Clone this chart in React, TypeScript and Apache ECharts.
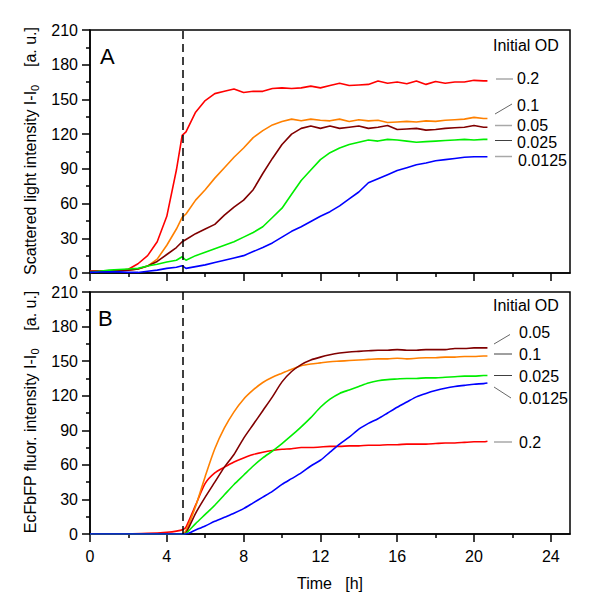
import React, { useEffect, useRef } from "react";
import * as echarts from "echarts";

// ---- Data ----
const X_MAJOR = [0, 4, 8, 12, 16, 20, 24];
const X_MINOR = [2, 6, 10, 14, 18, 22];
const X_LABELS = ["0", "4", "8", "12", "16", "20", "24"];
const INDUCTION_TIME = 4.85;

// Panel A: scattered light
const TOP_T = [0, 0.5, 1, 1.5, 2, 2.5, 3, 3.5, 4, 4.5, 4.8, 5.0, 5.5, 6, 6.5, 7, 7.5, 8, 8.5, 9, 9.5, 10, 10.5, 11, 11.5, 12, 12.5, 13, 13.5, 14, 14.5, 15, 15.5, 16, 16.5, 17, 17.5, 18, 18.5, 19, 19.5, 20, 20.5, 20.7];
const TOP_02 = [1.5, 1.8, 2, 2.2, 3.2, 8, 15, 27, 49, 89, 119, 122, 139, 149, 155, 157, 159, 156, 157, 157, 159.5, 160, 159.5, 160, 161.5, 160, 162, 164, 162, 162.5, 163, 166, 164, 165, 163.5, 166, 163, 165.5, 164, 165, 165, 166.5, 166, 166];
const TOP_01 = [1.5, 1.8, 2, 2.2, 2.5, 3.5, 6, 12, 24, 38, 48, 51, 63, 72, 82, 91, 100, 108, 117, 123, 128, 131, 133, 131.5, 133, 132, 131.5, 133, 131, 132.5, 131.5, 132, 130, 130.5, 131, 130.5, 131.5, 131, 132, 132.5, 133, 134.5, 133.5, 133.5];
const TOP_005 = [1.5, 1.5, 1.8, 2, 2.5, 3.5, 6, 10, 16, 22, 27, 29, 34, 38, 42, 50, 57, 63, 72, 86, 99, 111, 120, 125, 127, 125, 127, 125, 126, 127, 125, 126, 127.5, 124, 124.5, 125, 123.5, 124, 125, 125.5, 126, 127.5, 126, 126];
const TOP_0025 = [0.5, 1.5, 2.5, 3, 3.5, 4, 6, 7.5, 9.5, 11, 14, 11, 15, 18, 21, 24, 27, 31, 35, 40, 48, 56, 68, 80, 89, 98, 104, 108, 111, 113, 115, 114, 115.5, 115, 114, 113, 113.5, 114, 114.5, 115, 115.5, 115, 115.5, 115.5];
const TOP_00125 = [0.5, 0.8, 1, 1, 0.5, 0.5, 1.5, 2.5, 4, 5, 6.3, 4, 5.5, 7, 9, 11, 13, 15, 18.5, 22, 26, 31, 36, 40, 44.5, 49, 53, 58, 64, 70, 78, 81.5, 85, 88.5, 91, 93.5, 95, 97, 98, 99, 100, 100.5, 100.5, 100.5];

// Panel B: EcFbFP fluorescence
const BOT_T = [0, 1, 2, 3, 4, 4.5, 4.85, 5.0, 5.5, 6, 6.5, 7, 7.5, 8, 8.5, 9, 9.5, 10, 10.5, 11, 11.5, 12, 12.5, 13, 13.5, 14, 14.5, 15, 15.5, 16, 16.5, 17, 17.5, 18, 18.5, 19, 19.5, 20, 20.5, 20.7];
const BOT_02 = [0, 0, 0.2, 0.5, 1.5, 2.5, 4, 6, 25, 44, 53, 58, 62.5, 66, 69, 71, 72.5, 73.5, 74, 75, 75, 75.5, 76, 76, 76.5, 76.5, 77, 77, 77.5, 77.5, 78, 78, 78, 78.5, 79, 79, 79.5, 80, 80, 80.5];
const BOT_01 = [0, 0, 0, 0, 0, 0, 0.5, 3, 24, 50, 74, 92, 106, 117, 125, 131.5, 136, 139.5, 143, 146, 147.5, 148.5, 149.5, 150, 150.5, 151, 151.5, 152, 152, 152.5, 152, 152.5, 153, 153, 153.5, 153.5, 154, 154, 154.5, 154.5];
const BOT_005 = [0, 0, 0, 0, 0, 0, 0, 1, 18, 32, 45, 58, 69, 83, 95, 107, 119, 132, 141, 147, 151, 153.5, 155.5, 157, 158, 158.5, 159, 159.5, 159.5, 160, 159.5, 159.5, 160, 160, 160, 161, 161, 161.5, 161.5, 161.5];
const BOT_0025 = [0, 0, 0, 0, 0, 0, 0, 0.5, 9, 17, 25, 34, 43, 51, 59, 66, 72, 78.5, 85.5, 93, 101, 110, 117, 122, 125, 128, 131, 133, 134, 134.5, 135, 135, 135.5, 135.5, 136, 136.5, 137, 137, 137.5, 137.5];
const BOT_00125 = [0, 0, 0, 0, 0, 0, 0, 0, 3.5, 7, 11, 14.5, 18, 22, 27, 32, 37, 43, 48, 53, 59, 64, 71, 78, 84, 91, 96, 100, 105, 110, 114.5, 119, 122, 124.5, 126.5, 128, 129, 130, 130.5, 131];

const OD_NAMES = ["0.2", "0.1", "0.05", "0.025", "0.0125"];
const COLORS = ["#ff0000", "#ff8000", "#800000", "#00ee00", "#0000ff"];

const FONT = "'Liberation Sans', Arial, sans-serif";

function pairs(t: number[], v: number[]) {
  return t.map((x, i) => [x, v[i]]);
}

export default function App() {
  const ref = useRef<HTMLDivElement>(null);
  useEffect(() => {
    document.body.style.margin = "0";
    if (!ref.current) return;
    const chart = echarts.init(ref.current, null, { renderer: "svg" });

    const topSets = [TOP_02, TOP_01, TOP_005, TOP_0025, TOP_00125];
    const botSets = [BOT_02, BOT_01, BOT_005, BOT_0025, BOT_00125];

    const dashLine = {
      silent: true,
      symbol: "none",
      label: { show: false },
      lineStyle: { type: [8, 5], color: "#000", width: 1.5 },
      data: [{ xAxis: INDUCTION_TIME }],
    };

    const series: any[] = [];
    topSets.forEach((d, i) => {
      series.push({
        type: "line",
        name: "A " + OD_NAMES[i],
        xAxisIndex: 0,
        yAxisIndex: 0,
        data: pairs(TOP_T, d),
        showSymbol: false,
        lineStyle: { color: COLORS[i], width: 1.6 },
        itemStyle: { color: COLORS[i] },
        markLine: i === 0 ? dashLine : undefined,
      });
    });
    botSets.forEach((d, i) => {
      series.push({
        type: "line",
        name: "B " + OD_NAMES[i],
        xAxisIndex: 2,
        yAxisIndex: 1,
        data: pairs(BOT_T, d),
        showSymbol: false,
        smooth: 0.25,
        lineStyle: { color: COLORS[i], width: 1.6 },
        itemStyle: { color: COLORS[i] },
        markLine: i === 0 ? dashLine : undefined,
      });
    });

    const axisLine = { show: true, onZero: false, lineStyle: { color: "#000", width: 1.5 } };
    const mkX = (grid: number, labels: boolean) => [
      {
        type: "value",
        gridIndex: grid,
        min: 0,
        max: 25,
        position: "bottom",
        axisLine,
        splitLine: { show: false },
        axisTick: { show: true, customValues: X_MAJOR, length: 8, lineStyle: { color: "#000", width: 1.5 } },
        axisLabel: {
          show: labels,
          customValues: X_MAJOR,
          formatter: (v: number) => X_LABELS[X_MAJOR.indexOf(v)] ?? "",
          fontSize: 16,
          color: "#000",
          fontFamily: FONT,
          margin: 14,
        },
      },
      {
        type: "value",
        gridIndex: grid,
        min: 0,
        max: 25,
        position: "bottom",
        axisLine: { show: false },
        splitLine: { show: false },
        axisTick: { show: true, customValues: X_MINOR, length: 4, lineStyle: { color: "#000", width: 1.5 } },
        axisLabel: { show: false },
      },
    ];
    const mkY = (grid: number) => ({
      type: "value",
      gridIndex: grid,
      min: 0,
      max: 210,
      interval: 30,
      axisLine,
      splitLine: { show: false },
      axisTick: { show: true, length: 8, lineStyle: { color: "#000", width: 1.5 } },
      minorTick: { show: true, splitNumber: 2, length: 4, lineStyle: { color: "#000", width: 1.5 } },
      minorSplitLine: { show: false },
      axisLabel: { fontSize: 16, color: "#000", fontFamily: FONT, margin: 12 },
    });

    const txt = (x: number, y: number, text: string, extra: any = {}) => ({
      type: "text",
      x,
      y,
      silent: true,
      style: {
        text,
        fill: "#000",
        font: `16px ${FONT}`,
        align: "left",
        verticalAlign: "middle",
        ...extra,
      },
    });
    const seg = (x1: number, y1: number, x2: number, y2: number, color: string, w: number) => ({
      type: "line",
      silent: true,
      shape: { x1, y1, x2, y2 },
      style: { stroke: color, lineWidth: w },
    });
    const LIGHT = "#a8a8a8";
    const DARK = "#404040";

    const yTitle = (x: number, y: number, main: string) => ({
      type: "text",
      x,
      y,
      rotation: Math.PI / 2,
      silent: true,
      style: {
        text: `{a|${main}}{s|0}{a|    [a. u.]}`,
        fill: "#000",
        align: "center",
        verticalAlign: "middle",
        rich: {
          a: { fontSize: 16, fontFamily: FONT, fill: "#000" },
          s: { fontSize: 11, fontFamily: FONT, fill: "#000", padding: [9, 0, 0, 0] },
        },
      },
    });

    const graphic: any[] = [
      txt(100, 56, "A", { font: `22px ${FONT}` }),
      txt(98, 318, "B", { font: `22px ${FONT}` }),
      yTitle(30, 151, "Scattered light intensity I-I"),
      yTitle(30, 412, "EcFbFP fluor. intensity I-I"),
      txt(330, 583, "Time   [h]", { align: "center" }),
      // Panel A labels
      txt(493, 45, "Initial OD"),
      txt(517, 78, "0.2"),
      seg(496, 79, 513, 79, LIGHT, 1.5),
      txt(517, 105, "0.1"),
      seg(495, 114, 512, 104, DARK, 0.8),
      txt(517, 125, "0.05"),
      seg(495, 125.5, 512, 125.5, LIGHT, 1.5),
      txt(517, 142, "0.025"),
      seg(495, 140.5, 512, 140.5, DARK, 1),
      txt(518, 160, "0.0125"),
      seg(495, 156.5, 512, 156.5, LIGHT, 1.5),
      // Panel B labels
      txt(493, 305, "Initial OD"),
      txt(519, 332, "0.05"),
      seg(494, 344, 510, 334.5, DARK, 0.8),
      txt(519, 354, "0.1"),
      seg(494, 354, 512, 354, DARK, 1),
      txt(519, 376, "0.025"),
      seg(494, 375.5, 512, 375.5, DARK, 1),
      txt(519, 398, "0.0125"),
      seg(494, 387, 511, 398, DARK, 0.8),
      txt(519, 442, "0.2"),
      seg(494, 442, 512, 442, LIGHT, 1.5),
    ];

    chart.setOption({
      animation: false,
      backgroundColor: "#fff",
      textStyle: { fontFamily: FONT },
      grid: [
        { left: 90, top: 30, width: 480, height: 243, show: true, borderColor: "#000", borderWidth: 1.5, backgroundColor: "transparent" },
        { left: 90, top: 292, width: 480, height: 242, show: true, borderColor: "#000", borderWidth: 1.5, backgroundColor: "transparent" },
      ],
      xAxis: [...mkX(0, false), ...mkX(1, true)],
      yAxis: [mkY(0), mkY(1)],
      series,
      graphic,
    });

    return () => chart.dispose();
  }, []);

  return <div ref={ref} style={{ width: 600, height: 607 }} />;
}
